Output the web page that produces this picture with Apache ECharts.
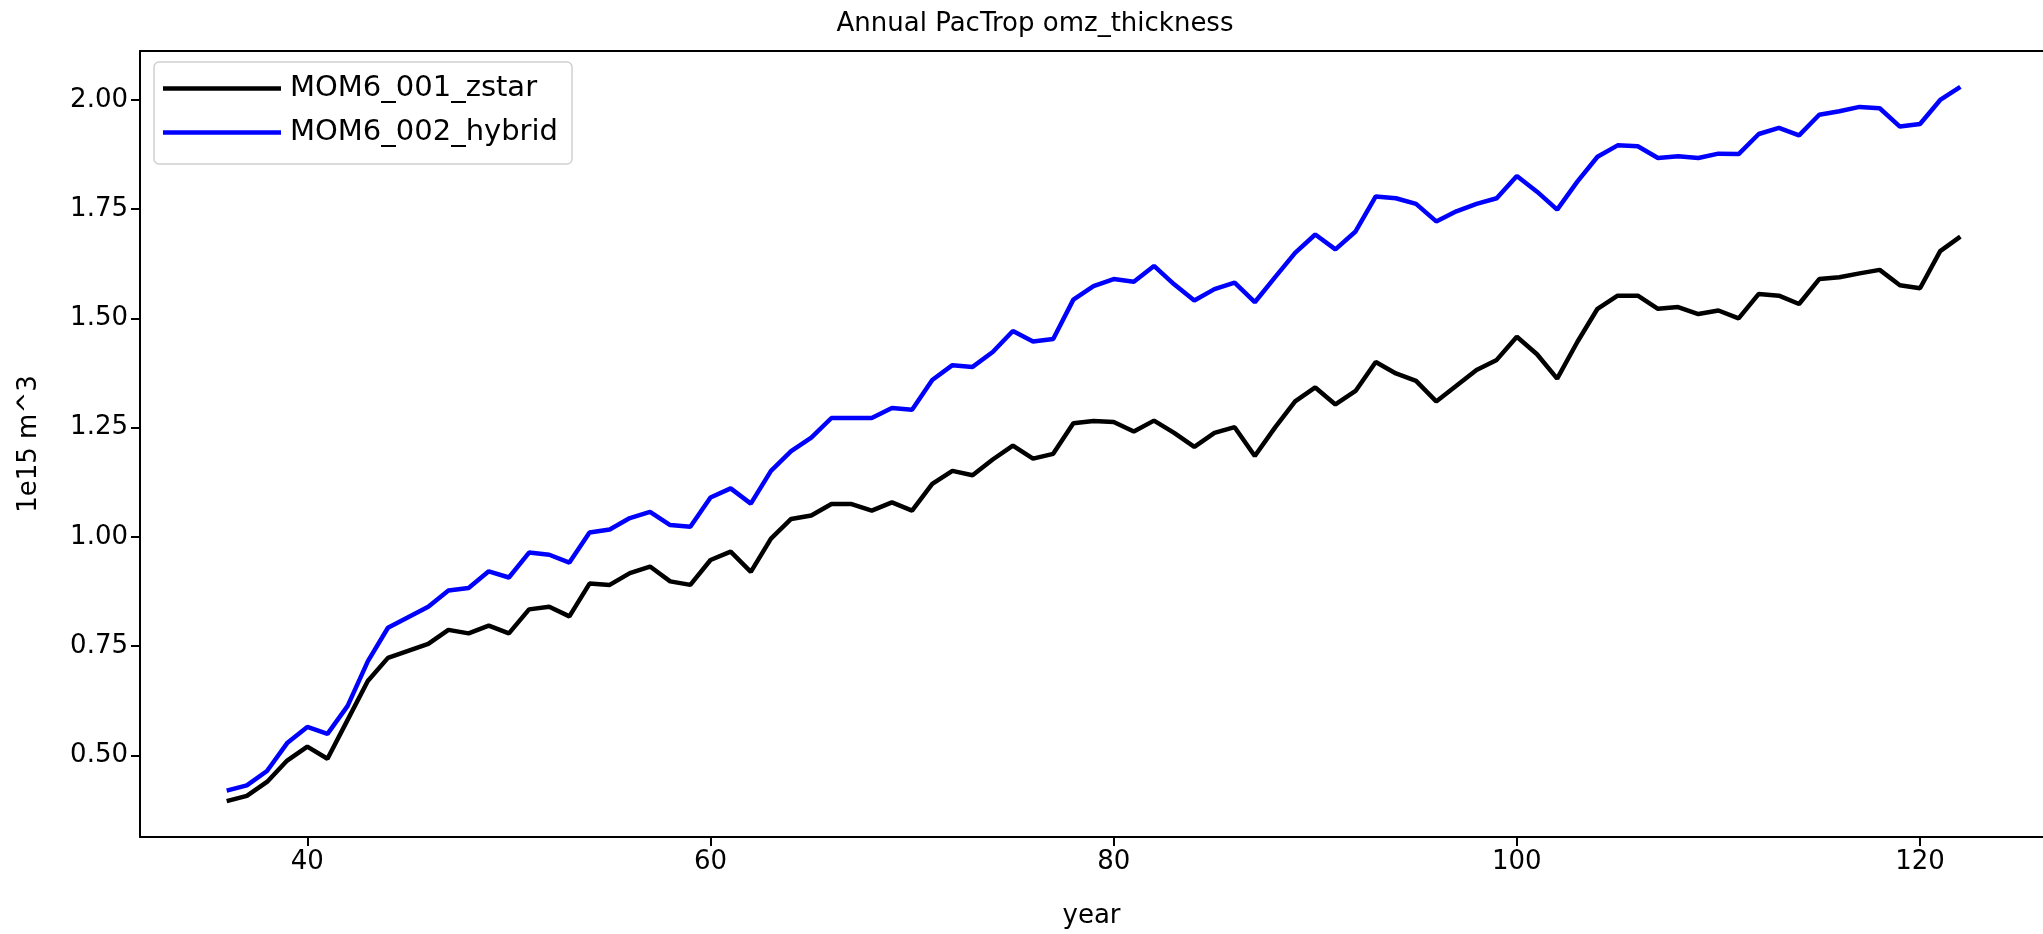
<!DOCTYPE html>
<html>
<head>
<meta charset="utf-8">
<script src="https://cdn.jsdelivr.net/npm/echarts@6/dist/echarts.min.js"></script>
<style>html,body{margin:0;padding:0;background:#fff}#c{width:2043px;height:934px}</style>
</head>
<body>
<div id="c"></div>
<script>
const titleText = 'Annual PacTrop omz_thickness';
const xLabel = 'year';
const yLabel = '1e15 m^3';
const seriesNames = ['MOM6_001_zstar', 'MOM6_002_hybrid'];
const years = [36,37,38,39,40,41,42,43,44,45,46,47,48,49,50,51,52,53,54,55,56,57,58,59,60,61,62,63,64,65,66,67,68,69,70,71,72,73,74,75,76,77,78,79,80,81,82,83,84,85,86,87,88,89,90,91,92,93,94,95,96,97,98,99,100,101,102,103,104,105,106,107,108,109,110,111,112,113,114,115,116,117,118,119,120,121,122];
const zstar = [0.395,0.407,0.439,0.488,0.520,0.492,0.581,0.670,0.723,0.739,0.755,0.787,0.779,0.797,0.779,0.834,0.840,0.818,0.893,0.890,0.917,0.932,0.898,0.890,0.947,0.966,0.920,0.996,1.041,1.049,1.075,1.075,1.060,1.079,1.060,1.121,1.151,1.141,1.177,1.209,1.179,1.190,1.260,1.265,1.263,1.241,1.266,1.238,1.206,1.238,1.251,1.185,1.250,1.310,1.342,1.303,1.334,1.400,1.374,1.357,1.310,1.346,1.382,1.405,1.458,1.418,1.362,1.446,1.522,1.552,1.552,1.522,1.526,1.510,1.518,1.500,1.556,1.552,1.533,1.590,1.594,1.603,1.611,1.576,1.569,1.654,1.687];
const hybrid = [0.419,0.431,0.464,0.528,0.565,0.549,0.613,0.715,0.792,0.816,0.840,0.877,0.883,0.921,0.907,0.964,0.959,0.941,1.010,1.017,1.043,1.057,1.027,1.023,1.090,1.111,1.076,1.151,1.196,1.227,1.272,1.272,1.272,1.295,1.291,1.359,1.393,1.389,1.423,1.471,1.447,1.453,1.543,1.574,1.590,1.584,1.620,1.578,1.541,1.567,1.582,1.537,1.594,1.650,1.692,1.658,1.699,1.779,1.775,1.762,1.722,1.745,1.762,1.775,1.826,1.790,1.749,1.813,1.870,1.896,1.894,1.867,1.871,1.867,1.877,1.876,1.922,1.936,1.919,1.966,1.974,1.984,1.981,1.939,1.945,2.000,2.030];
const xTicks = [40,60,80,100,120];
const yTicks = [0.50,0.75,1.00,1.25,1.50,1.75,2.00];
const colors = ['#000000', '#0000ff'];

const FONT = 'DejaVu Sans';
const X_MIN = 31.7, X_MAX = 126.1;
const chart = echarts.init(document.getElementById('c'), null, {renderer: 'canvas'});
const pairs = arr => years.map((y, i) => [y, arr[i]]);
const spine = {show: true, onZero: false, lineStyle: {color: '#000', width: 2}};
chart.setOption({
  animation: false,
  backgroundColor: '#ffffff',
  title: {
    text: titleText,
    left: 1030, top: 6, textAlign: 'center',
    textStyle: {fontFamily: FONT, fontSize: 26, fontWeight: 'normal', color: '#000'}
  },
  legend: {
    orient: 'vertical',
    left: 154, top: 62,
    icon: 'rect', itemWidth: 118, itemHeight: 4.5, itemGap: 11,
    padding: [10, 14, 15, 9],
    backgroundColor: '#ffffff',
    borderColor: '#d0d0d0', borderWidth: 1.5, borderRadius: 5,
    textStyle: {fontFamily: FONT, fontSize: 29, color: '#000', lineHeight: 33, padding: [0, 0, 0, 4]},
    data: seriesNames
  },
  grid: {left: 140, right: 0, top: 51, bottom: 89.5},
  xAxis: [{
    type: 'value', min: X_MIN, max: X_MAX,
    name: xLabel, nameLocation: 'middle', nameGap: 66,
    nameTextStyle: {fontFamily: FONT, fontSize: 26, color: '#000'},
    axisLine: spine,
    axisTick: {show: true, length: 9, customValues: xTicks, lineStyle: {color: '#000', width: 2}},
    axisLabel: {customValues: xTicks, fontFamily: FONT, fontSize: 26, color: '#000', margin: 12},
    splitLine: {show: false}
  }, {
    type: 'value', position: 'top', min: X_MIN, max: X_MAX,
    axisLine: spine, axisTick: {show: false}, axisLabel: {show: false}, splitLine: {show: false}
  }],
  yAxis: {
    type: 'value', min: 0.313, max: 2.112,
    name: yLabel, nameLocation: 'middle', nameGap: 98, nameRotate: 90,
    nameTextStyle: {fontFamily: FONT, fontSize: 26, color: '#000'},
    axisLine: spine,
    axisTick: {show: true, length: 9, customValues: yTicks, lineStyle: {color: '#000', width: 2}},
    axisLabel: {customValues: yTicks, fontFamily: FONT, fontSize: 26, color: '#000', margin: 12,
      formatter: v => v.toFixed(2)},
    splitLine: {show: false}
  },
  series: [
    {name: seriesNames[0], type: 'line', data: pairs(zstar), symbol: 'none', xAxisIndex: 0,
     lineStyle: {color: colors[0], width: 4.5}, itemStyle: {color: colors[0]}},
    {name: seriesNames[1], type: 'line', data: pairs(hybrid), symbol: 'none', xAxisIndex: 0,
     lineStyle: {color: colors[1], width: 4.5}, itemStyle: {color: colors[1]}}
  ]
});
</script>
</body>
</html>
